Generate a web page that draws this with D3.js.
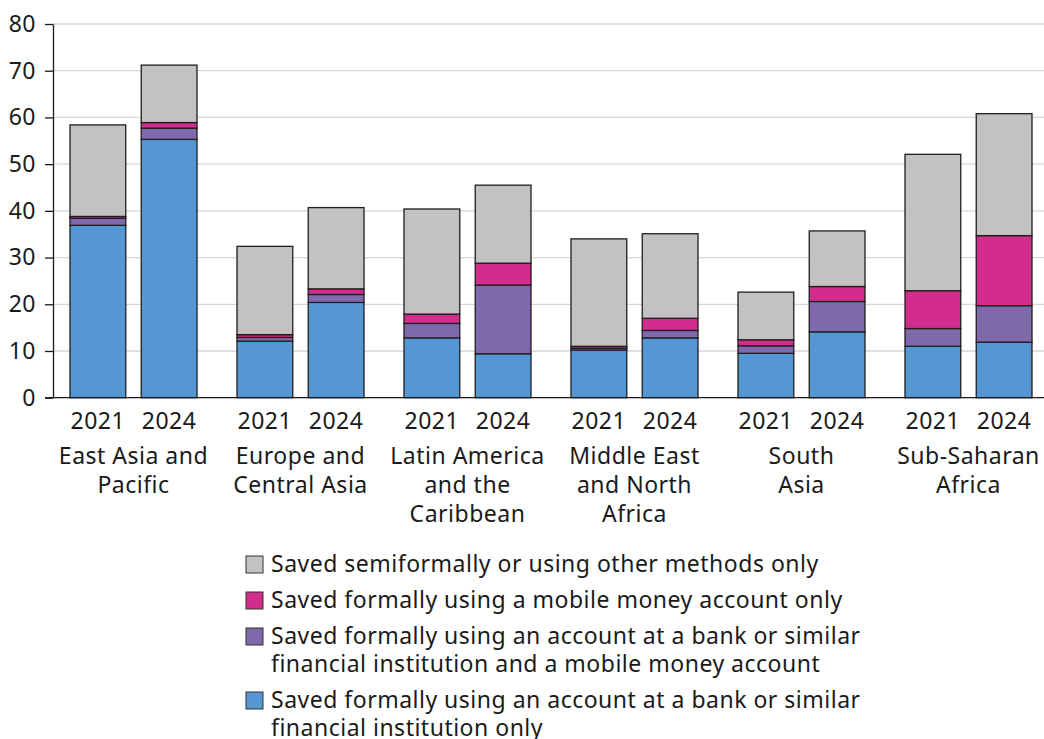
<!DOCTYPE html>
<html>
<head>
<meta charset="utf-8">
<script src="https://cdn.jsdelivr.net/npm/d3@7"></script>
<style>
  body { margin: 0; background: #fff; }
  svg text { font-family: "Noto Sans", "Open Sans", sans-serif; fill: #1a1a1a; letter-spacing: 0.5px; }
</style>
</head>
<body>
<svg id="chart" width="1044" height="739"></svg>
<script>
/* ---------- data ---------- */
const regions = ["East Asia and Pacific", "Europe and Central Asia", "Latin America and the Caribbean",
  "Middle East and North Africa", "South Asia", "Sub-Saharan Africa"];
const regionLines = [["East Asia and", "Pacific"], ["Europe and", "Central Asia"],
  ["Latin America", "and the", "Caribbean"], ["Middle East", "and North", "Africa"],
  ["South", "Asia"], ["Sub-Saharan", "Africa"]];
const years = ["2021", "2024"];

// one value per region-year, order: EAP21, EAP24, ECA21, ECA24, LAC21, LAC24, MENA21, MENA24, SA21, SA24, SSA21, SSA24
const bankOnly   = [36.9, 55.3, 12.1, 20.4, 12.8,  9.4, 10.2, 12.8,  9.5, 14.1, 11.0, 11.9];
const bankMobile = [ 1.5,  2.4,  0.8,  1.7,  3.1, 14.7,  0.4,  1.6,  1.6,  6.5,  3.8,  7.8];
const mobileOnly = [ 0.4,  1.2,  0.6,  1.2,  2.0,  4.7,  0.4,  2.6,  1.3,  3.2,  8.1, 15.0];
const semiformal = [19.6, 12.3, 18.9, 17.4, 22.5, 16.7, 23.0, 18.1, 10.2, 11.9, 29.2, 26.1];

const yTicks = [0, 10, 20, 30, 40, 50, 60, 70, 80];

const seriesKeys = ["bank", "both", "mobile", "semi"];
const seriesColors = { bank: "#5597d3", both: "#8068ac", mobile: "#d22d8e", semi: "#c3c2c0" };
const legendItems = [
  { key: "semi", lines: ["Saved semiformally or using other methods only"] },
  { key: "mobile", lines: ["Saved formally using a mobile money account only"] },
  { key: "both", lines: ["Saved formally using an account at a bank or similar", "financial institution and a mobile money account"] },
  { key: "bank", lines: ["Saved formally using an account at a bank or similar", "financial institution only"] }
];

const rows = [];
regions.forEach((r, i) => years.forEach((yr, j) => {
  const k = i * 2 + j;
  rows.push({ region: r, year: yr, bank: bankOnly[k], both: bankMobile[k], mobile: mobileOnly[k], semi: semiformal[k] });
}));

/* ---------- scales ---------- */
const svg = d3.select("#chart");
const axisX = 53, plotRight = 1044;
const fs = 23;
const x0 = d3.scaleBand().domain(regions).range([50, 1052]).padding(0);
const x1 = d3.scaleBand().domain(years).range([-63.5, 63.5]).paddingInner(0.217).paddingOuter(0);
const y = d3.scaleLinear().domain([0, 80]).range([397.7, 24]);

/* ---------- grid + axes ---------- */
svg.append("g").selectAll("line").data(yTicks.filter(d => d > 0)).join("line")
  .attr("x1", axisX).attr("x2", plotRight)
  .attr("y1", d => y(d)).attr("y2", d => y(d))
  .attr("stroke", "#d6d6d6").attr("stroke-width", 1.3);

const yAxis = svg.append("g").attr("transform", `translate(${axisX},0)`)
  .call(d3.axisLeft(y).tickValues(yTicks).tickSize(8).tickPadding(9).tickSizeOuter(0));
yAxis.select(".domain").attr("stroke", "#1a1a1a").attr("stroke-width", 1.3);
yAxis.selectAll(".tick line").attr("stroke", "#1a1a1a").attr("stroke-width", 1.3);
yAxis.selectAll(".tick text").attr("font-size", fs).attr("fill", "#1a1a1a");

/* ---------- bars ---------- */
const stack = d3.stack().keys(seriesKeys)(rows);
const barG = svg.append("g");
stack.forEach(layer => {
  barG.append("g").selectAll("rect").data(layer).join("rect")
    .attr("x", d => x0(d.data.region) + x0.bandwidth() / 2 + x1(d.data.year))
    .attr("width", x1.bandwidth())
    .attr("y", d => y(d[1]))
    .attr("height", d => y(d[0]) - y(d[1]))
    .attr("fill", seriesColors[layer.key])
    .attr("stroke", "#1e1e1e").attr("stroke-width", 1.3);
});

// baseline
svg.append("line").attr("x1", 45).attr("x2", plotRight)
  .attr("y1", y(0)).attr("y2", y(0)).attr("stroke", "#1a1a1a").attr("stroke-width", 1.3);

/* ---------- x labels ---------- */
const xl = svg.append("g");
regions.forEach((r, i) => {
  const cx = x0(r) + x0.bandwidth() / 2;
  years.forEach(yr => {
    xl.append("text").attr("x", cx + x1(yr) + x1.bandwidth() / 2).attr("y", 429)
      .attr("text-anchor", "middle").attr("font-size", fs).text(yr);
  });
  regionLines[i].forEach((ln, k) => {
    xl.append("text").attr("x", cx).attr("y", 464 + k * 29)
      .attr("text-anchor", "middle").attr("font-size", fs).text(ln);
  });
});

/* ---------- legend ---------- */
const lg = svg.append("g");
let ly = 564;
legendItems.forEach(item => {
  lg.append("rect").attr("x", 246).attr("y", ly - 8).attr("width", 17).attr("height", 17)
    .attr("fill", seriesColors[item.key]).attr("stroke", "#333").attr("stroke-width", 1);
  item.lines.forEach((ln, k) => {
    lg.append("text").attr("x", 271).attr("y", ly + 8 + k * 28)
      .attr("font-size", fs).text(ln);
  });
  ly += 36 + (item.lines.length - 1) * 28;
});
</script>
</body>
</html>
